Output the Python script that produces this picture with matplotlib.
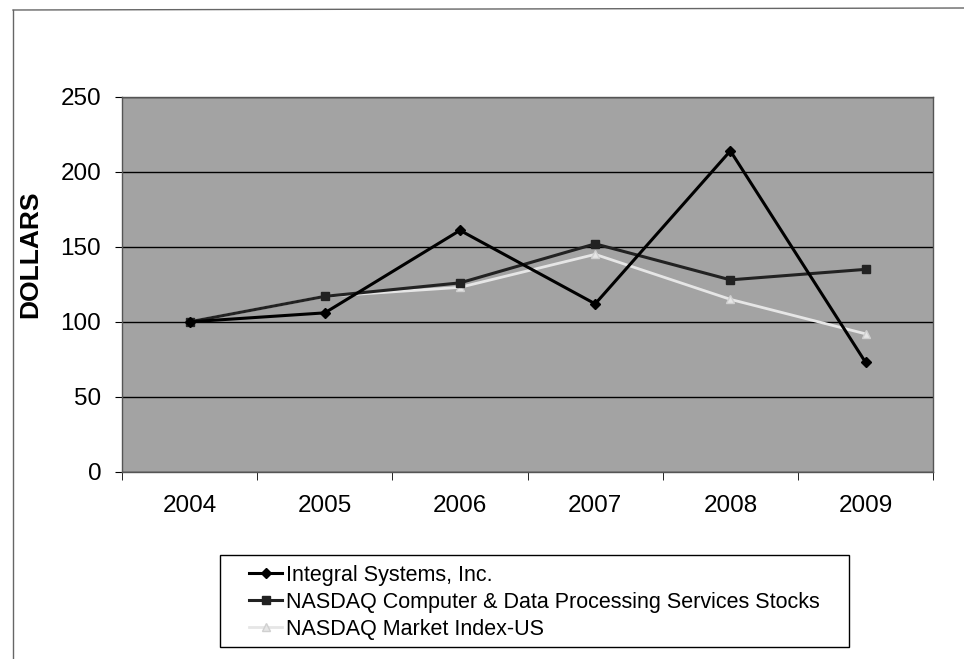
import numpy as np
import matplotlib
matplotlib.use('Agg')
from matplotlib import pyplot as plt
from matplotlib.patches import Rectangle
from matplotlib.lines import Line2D

plt.rcParams['font.family'] = ['Liberation Sans', 'DejaVu Sans']

years = ['2004', '2005', '2006', '2007', '2008', '2009']
integral = [100, 106, 161, 112, 214, 73]
nasdaq_comp = [100, 117, 126, 152, 128, 135]
nasdaq_market = [100, 117, 123, 145, 115, 92]
y_ticks = [0, 50, 100, 150, 200, 250]

W, H = 964, 659
fig = plt.figure(figsize=(W / 100, H / 100), dpi=100)
ax = fig.add_axes([0.1266, 0.284, 0.8414, 0.569])

x = np.arange(len(years))
ax.set_facecolor('#a3a3a3')

ax.plot(x, integral, color='black', lw=2.2, marker='D', ms=5,
        label='Integral Systems, Inc.', zorder=4)
ax.plot(x, nasdaq_comp, color='#222222', lw=2.2, marker='s', ms=6,
        label='NASDAQ Computer & Data Processing Services Stocks', zorder=3)
ax.plot(x, nasdaq_market, color='#e6e6e6', lw=2, marker='^', ms=6,
        mec='#d0d0d0', label='NASDAQ Market Index-US', zorder=2)

ax.set_xlim(-0.5, len(years) - 0.5)
ax.set_ylim(0, 250)
ax.set_yticks(y_ticks)
ax.yaxis.grid(True, color='black', lw=1)
ax.set_axisbelow(True)

ax.set_xticks(x)
ax.set_xticklabels(years, fontsize=17.5)
ax.set_xticks(np.arange(len(years) + 1) - 0.5, minor=True)
ax.tick_params(axis='x', which='major', length=0, pad=17)
ax.tick_params(axis='x', which='minor', length=6, direction='out')
ax.tick_params(axis='y', labelsize=17.5, length=5, direction='out', pad=10)

ax.set_ylabel('DOLLARS', fontsize=19, fontweight='bold')
ax.yaxis.set_label_coords(-0.098, 0.579)

for s in ax.spines.values():
    s.set_color('#555555')
    s.set_linewidth(1)

# legend text without its own frame; box drawn to match the reference size
leg = ax.legend(loc='upper center', bbox_to_anchor=(0.5545, 0.158),
                bbox_transform=fig.transFigure, fontsize=15.5, frameon=False,
                borderpad=0.45, handlelength=1.5, handletextpad=0.2,
                labelspacing=0.28, borderaxespad=0)
fig.patches.append(Rectangle((220 / W, 1 - 647 / H), 629 / W, 92 / H,
                             transform=fig.transFigure, fill=False,
                             edgecolor='black', lw=1))

# scanned page frame: top and left edges only
fig.lines.append(Line2D([13 / W, 1], [1 - 10 / H, 1 - 8 / H], transform=fig.transFigure,
                        color='#666666', lw=1))
fig.lines.append(Line2D([13 / W, 13 / W], [1 - 10 / H, 0], transform=fig.transFigure,
                        color='#666666', lw=1))

fig.savefig('out.png', dpi=100)
